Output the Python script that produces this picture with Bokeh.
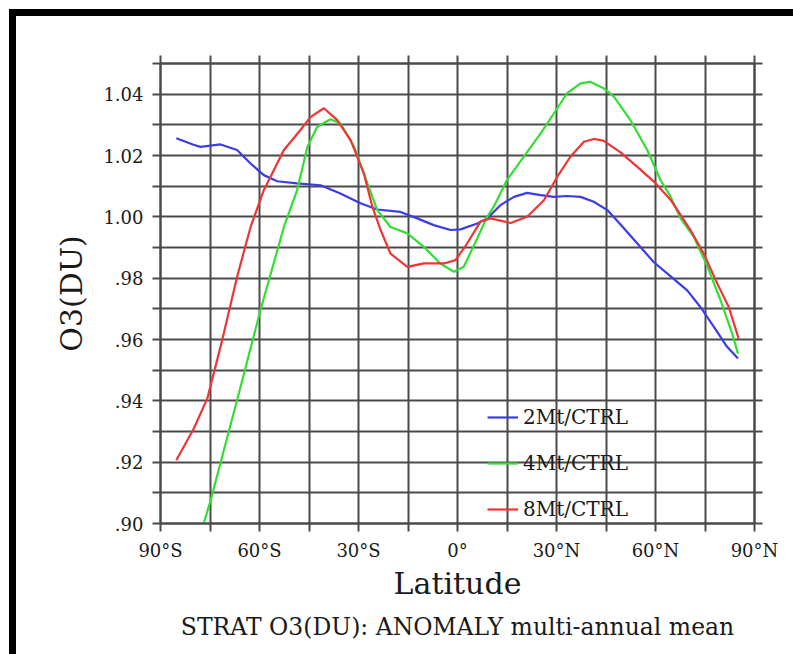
from bokeh.plotting import figure
from bokeh.models import Range1d, FixedTicker, LinearAxis, Legend, LegendItem, Title
from bokeh.embed import file_html
from bokeh.resources import INLINE

# ---------------- data ----------------
lat_2mt = [-85.2, -80.0, -77.9, -71.8, -66.8, -62.7, -58.7, -54.6, -48.6, -41.5, -35.5,
           -29.4, -24.3, -17.3, -12.2, -7.2, -2.1, 0.9, 6.0, 9.0, 13.0, 17.1, 21.1,
           25.2, 29.2, 33.2, 37.3, 41.3, 45.4, 49.4, 54.5, 59.5, 64.6, 69.6, 73.6,
           77.7, 81.7, 85.0]
o3_2mt = [1.0256, 1.0235, 1.0228, 1.0236, 1.0218, 1.0174, 1.0136, 1.0116, 1.0109, 1.0103, 1.0076,
          1.0044, 1.0024, 1.0016, 0.9995, 0.9973, 0.9957, 0.9959, 0.9978, 0.9995, 1.0038, 1.0065, 1.0078,
          1.0071, 1.0065, 1.0068, 1.0065, 1.0049, 1.0022, 0.9975, 0.9913, 0.9852, 0.9806, 0.9760, 0.9706,
          0.9641, 0.9576, 0.9538]

lat_4mt = [-85.2, -80.9, -76.9, -74.8, -66.8, -59.7, -52.6, -48.6, -45.5, -42.5, -38.5, -35.5,
           -31.3, -27.3, -24.3, -20.3, -15.2, -10.2, -5.2, -1.1, 1.9, 6.0, 9.0, 11.0, 15.0,
           20.1, 25.2, 29.2, 33.2, 37.3, 40.3, 44.3, 47.4, 52.4, 57.5, 61.5, 64.6, 67.6,
           71.6, 75.8, 79.7, 83.2, 85.0]
o3_4mt = [0.871, 0.886, 0.900, 0.9076, 0.9402, 0.9696, 0.9967, 1.0087, 1.0228, 1.0294, 1.0318, 1.0305,
          1.0228, 1.0109, 1.0022, 0.9967, 0.9946, 0.9902, 0.9848, 0.9821, 0.9837, 0.9930, 1.0000, 1.0033, 1.0120,
          1.0196, 1.0272, 1.0337, 1.0403, 1.0435, 1.0440, 1.0419, 1.0392, 1.0315, 1.0218, 1.0120, 1.0065, 0.9995,
          0.9935, 0.9837, 0.9728, 0.9620, 0.9554]

lat_8mt = [-85.2, -79.9, -75.8, -71.3, -66.8, -62.7, -58.7, -52.6, -47.6, -44.5, -40.5, -36.5,
           -32.4, -28.4, -25.8, -23.3, -20.3, -15.2, -10.2, -4.1, -0.6, 2.9, 7.0, 10.0,
           16.1, 21.1, 26.2, 30.2, 34.2, 38.3, 41.3, 44.3, 49.4, 54.5, 59.5, 64.6, 70.6,
           74.6, 78.7, 82.2, 85.2]
o3_8mt = [0.9206, 0.9310, 0.9408, 0.9598, 0.9804, 0.9967, 1.0087, 1.0218, 1.0283, 1.0326, 1.0354, 1.0316,
          1.0250, 1.0142, 1.0033, 0.9957, 0.9880, 0.9837, 0.9848, 0.9848, 0.9859, 0.9913, 0.9985, 0.9995,
          0.9980, 1.0000, 1.0054, 1.0130, 1.0196, 1.0245, 1.0254, 1.0248, 1.0210, 1.0163, 1.0115, 1.0055, 0.9957,
          0.9880, 0.9783, 0.9706, 0.9603]

series_names = ["2Mt/CTRL", "4Mt/CTRL", "8Mt/CTRL"]

x_ticks = [-90, -60, -30, 0, 30, 60, 90]
x_labels = ["90°S", "60°S", "30°S", "0°", "30°N", "60°N", "90°N"]
x_minor = [-75, -45, -15, 15, 45, 75]
y_ticks = [0.90, 0.92, 0.94, 0.96, 0.98, 1.00, 1.02, 1.04]
y_labels = [".90", ".92", ".94", ".96", ".98", "1.00", "1.02", "1.04"]
y_minor = [0.91, 0.93, 0.95, 0.97, 0.99, 1.01, 1.03, 1.05]

# ---------------- styling ----------------
FONT = "DejaVu Serif"
GRID = "#4a4a4a"
TXT = "#1a1a1a"
colors = ["#3c3ce6", "#33dd33", "#ee3535"]

p = figure(frame_width=594, frame_height=460,
           x_range=Range1d(-90, 90), y_range=Range1d(0.90, 1.05),
           output_backend="svg", toolbar_location=None,
           min_border_left=144, min_border_right=39, min_border_top=47, min_border_bottom=131)
p.styles = {"border-top": "7px solid black", "border-left": "7px solid black",
            "margin-left": "9px", "margin-top": "9px"}
p.background_fill_color = "white"
p.border_fill_color = "white"
p.outline_line_color = GRID
p.outline_line_width = 2

bottom_ax = p.below[0]
left_ax = p.left[0]
bottom_ax.ticker = FixedTicker(ticks=x_ticks, minor_ticks=x_minor)
left_ax.ticker = FixedTicker(ticks=y_ticks, minor_ticks=y_minor)
bottom_ax.major_label_overrides = dict(zip(x_ticks, x_labels))
left_ax.major_label_overrides = dict(zip(y_ticks, y_labels))

for g in (p.xgrid[0], p.ygrid[0]):
    g.grid_line_color = GRID
    g.grid_line_width = 2
    g.minor_grid_line_color = GRID
    g.minor_grid_line_width = 2

# unlabeled axes on top and right: only the outward tick stubs of the grid
top_ax = LinearAxis(ticker=FixedTicker(ticks=x_ticks, minor_ticks=x_minor))
right_ax = LinearAxis(ticker=FixedTicker(ticks=y_ticks, minor_ticks=y_minor))
top_ax.major_label_overrides = {t: "" for t in x_ticks}
right_ax.major_label_overrides = {t: "" for t in y_ticks}
for ax in (top_ax, right_ax):
    ax.major_label_text_font_size = "1px"
    ax.major_label_standoff = 0
p.add_layout(top_ax, "above")
p.add_layout(right_ax, "right")

for ax in (bottom_ax, left_ax, top_ax, right_ax):
    ax.axis_line_color = GRID
    ax.axis_line_width = 2
    ax.major_tick_line_color = GRID
    ax.minor_tick_line_color = GRID
    ax.major_tick_line_width = 2
    ax.minor_tick_line_width = 2
    ax.major_tick_in = 0
    ax.minor_tick_in = 0
    ax.major_tick_out = 8
    ax.minor_tick_out = 8

for ax in (bottom_ax, left_ax):
    ax.major_label_text_font = FONT
    ax.major_label_text_font_size = "18px"
    ax.major_label_text_color = TXT
    ax.major_label_standoff = 8
    ax.axis_label_text_font = FONT
    ax.axis_label_text_font_size = "30px"
    ax.axis_label_text_font_style = "normal"
    ax.axis_label_text_color = TXT

bottom_ax.axis_label = "Latitude"
bottom_ax.axis_label_standoff = 2
left_ax.axis_label = "O3(DU)"
left_ax.axis_label_standoff = 11
left_ax.major_label_standoff = 9
left_ax.major_label_orientation = "horizontal"

renderers = []
for lat, vals, c in zip((lat_2mt, lat_4mt, lat_8mt), (o3_2mt, o3_4mt, o3_8mt), colors):
    r = p.line(lat, vals, line_color=c, line_width=2.2)
    renderers.append(r)

legend = Legend(items=[LegendItem(label=n, renderers=[r]) for n, r in zip(series_names, renderers)],
                location=(327, 2), orientation="vertical",
                glyph_width=31, glyph_height=20, label_height=20, label_standoff=5,
                spacing=22, padding=0, margin=0,
                border_line_alpha=0, background_fill_alpha=0,
                label_text_font=FONT, label_text_font_size="20px", label_text_color=TXT)
p.add_layout(legend, "center")

title = Title(text="STRAT O3(DU): ANOMALY multi-annual mean", align="center",
              text_font=FONT, text_font_size="23.5px", text_font_style="normal",
              text_color=TXT, standoff=14)
p.add_layout(title, "below")

open("out.html", "w").write(file_html(p, INLINE))
